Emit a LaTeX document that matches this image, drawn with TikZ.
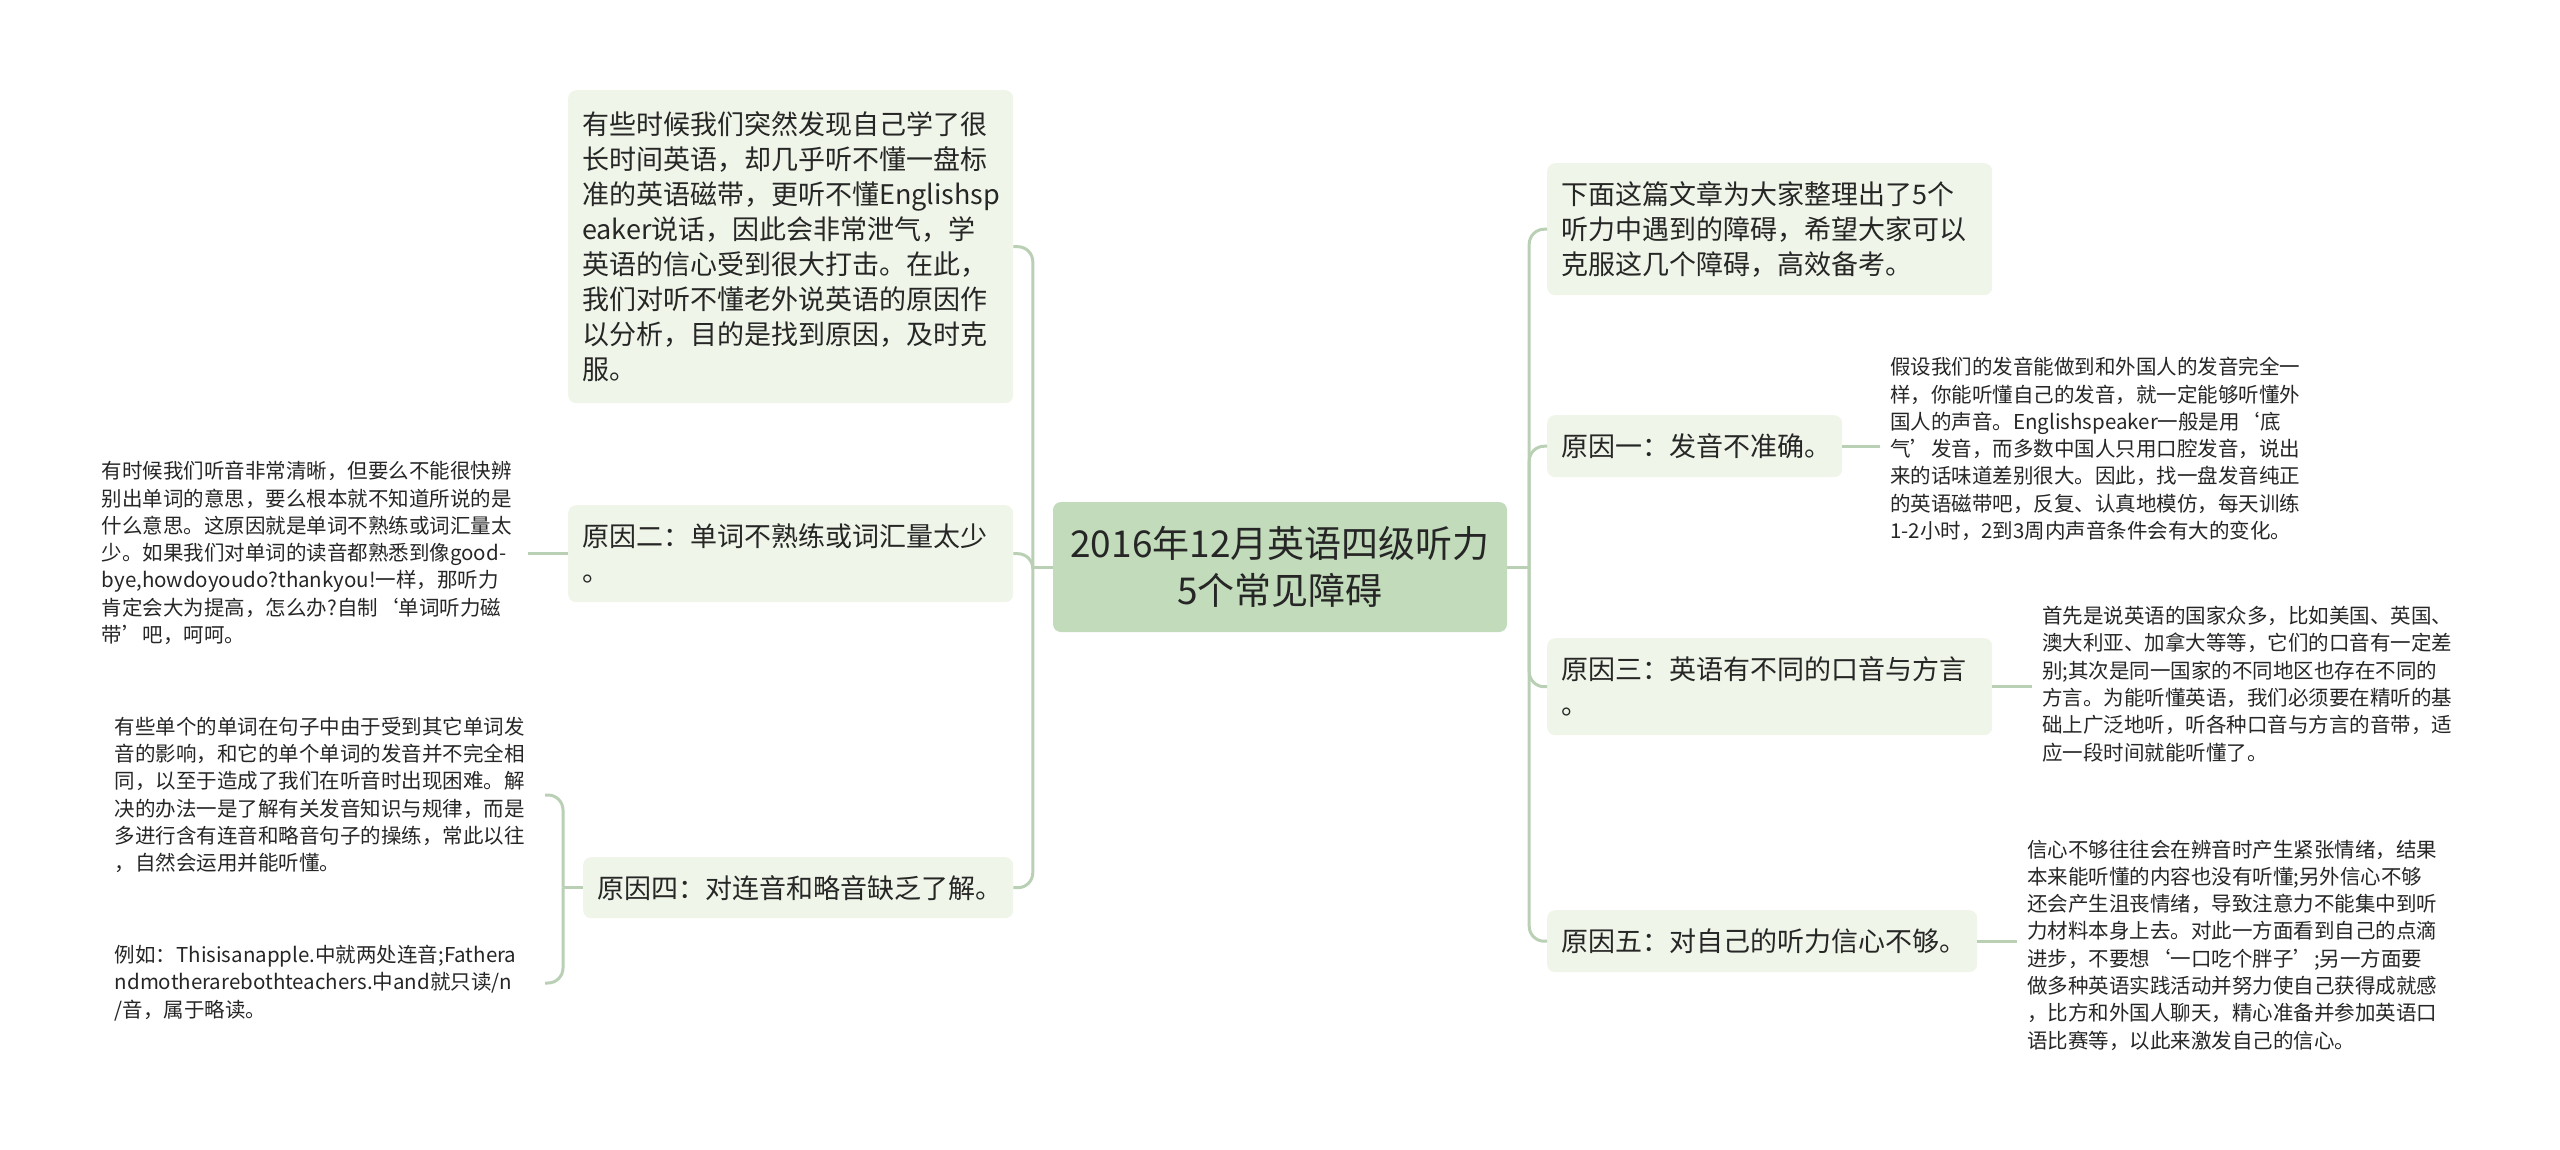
\documentclass[tikz,border=0pt]{standalone}
\usepackage{fontspec}
\setmainfont{Noto Sans CJK SC}
\usepackage{xcolor}
\usepackage{tikz}

\definecolor{linkgreen}{RGB}{186,208,181}
\definecolor{notefill}{RGB}{239,245,232}
\definecolor{rootfill}{RGB}{194,219,187}
\definecolor{inkgray}{RGB}{38,38,38}

\begin{document}
\begin{tikzpicture}[x=1pt,y=-1pt]
        % Define styles
        \tikzset{
            root/.style={rectangle, rounded corners=8pt, fill=rootfill, text=inkgray, align=center, font=\fontsize{37}{47}\selectfont, minimum width=454pt, minimum height=130pt, inner sep=0pt},
            note/.style={rectangle, rounded corners=8pt, fill=notefill, text=inkgray, align=left, font=\fontsize{27}{35}\selectfont, inner xsep=14pt, inner ysep=0pt, anchor=north west},
            detail/.style={align=left, text=inkgray, font=\fontsize{20.5}{27.3}\selectfont, inner xsep=10pt, inner ysep=0pt},
            link/.style={draw=linkgreen, line width=3pt, rounded corners=15pt}
        }
        \useasboundingbox (0,0) rectangle (2560,1149);

        % Nodes
        \node[root] (root_node) at (1280,567) {2016年12月英语四级听力\\5个常见障碍};

        % left side
        \node[note, text width=417pt, minimum height=313pt] (intro_node_l) at (568,90) {有些时候我们突然发现自己学了很\\长时间英语，却几乎听不懂一盘标\\准的英语磁带，更听不懂Englishsp\\eaker说话，因此会非常泄气，学\\英语的信心受到很大打击。在此，\\我们对听不懂老外说英语的原因作\\以分析，目的是找到原因，及时克\\服。};
        \node[note, text width=417pt, minimum height=97pt] (reason_node_2) at (568,505) {原因二：单词不熟练或词汇量太少\\。};
        \node[note, text width=402pt, minimum height=61pt] (reason_node_4) at (583,857) {原因四：对连音和略音缺乏了解。};
        \node[detail, anchor=east, text width=416pt] (detail_node_2) at (528,553) {有时候我们听音非常清晰，但要么不能很快辨\\别出单词的意思，要么根本就不知道所说的是\\什么意思。这原因就是单词不熟练或词汇量太\\少。如果我们对单词的读音都熟悉到像good-\\bye,howdoyoudo?thankyou!一样，那听力\\肯定会大为提高，怎么办?自制‘单词听力磁\\带’吧，呵呵。};
        \node[detail, anchor=east, text width=420pt] (detail_node_4a) at (545,795) {有些单个的单词在句子中由于受到其它单词发\\音的影响，和它的单个单词的发音并不完全相\\同，以至于造成了我们在听音时出现困难。解\\决的办法一是了解有关发音知识与规律，而是\\多进行含有连音和略音句子的操练，常此以往\\，自然会运用并能听懂。};
        \node[detail, anchor=east, text width=420pt] (detail_node_4b) at (545,983) {例如：Thisisanapple.中就两处连音;Fathera\\ndmotherarebothteachers.中and就只读/n\\/音，属于略读。};

        % right side
        \node[note, text width=417pt, minimum height=132pt] (intro_node_r) at (1547,163) {下面这篇文章为大家整理出了5个\\听力中遇到的障碍，希望大家可以\\克服这几个障碍，高效备考。};
        \node[note, text width=267pt, minimum height=62pt] (reason_node_1) at (1547,415) {原因一：发音不准确。};
        \node[note, text width=417pt, minimum height=97pt] (reason_node_3) at (1547,638) {原因三：英语有不同的口音与方言\\。};
        \node[note, text width=402pt, minimum height=62pt] (reason_node_5) at (1547,910) {原因五：对自己的听力信心不够。};
        \node[detail, anchor=west, text width=412pt] (detail_node_1) at (1880,449) {假设我们的发音能做到和外国人的发音完全一\\样，你能听懂自己的发音，就一定能够听懂外\\国人的声音。Englishspeaker一般是用‘底\\气’发音，而多数中国人只用口腔发音，说出\\来的话味道差别很大。因此，找一盘发音纯正\\的英语磁带吧，反复、认真地模仿，每天训练\\1-2小时，2到3周内声音条件会有大的变化。};
        \node[detail, anchor=west, text width=412pt] (detail_node_3) at (2032,684) {首先是说英语的国家众多，比如美国、英国、\\澳大利亚、加拿大等等，它们的口音有一定差\\别;其次是同一国家的不同地区也存在不同的\\方言。为能听懂英语，我们必须要在精听的基\\础上广泛地听，听各种口音与方言的音带，适\\应一段时间就能听懂了。};
        \node[detail, anchor=west, text width=420pt] (detail_node_5) at (2017,945) {信心不够往往会在辨音时产生紧张情绪，结果\\本来能听懂的内容也没有听懂;另外信心不够\\还会产生沮丧情绪，导致注意力不能集中到听\\力材料本身上去。对此一方面看到自己的点滴\\进步，不要想‘一口吃个胖子’;另一方面要\\做多种英语实践活动并努力使自己获得成就感\\，比方和外国人聊天，精心准备并参加英语口\\语比赛等，以此来激发自己的信心。};

        % Hubs
        \coordinate (left_hub) at ([xshift=-20pt]root_node.west);
        \coordinate (right_hub) at ([xshift=22pt]root_node.east);
        \coordinate (brace_hub) at ([xshift=-20pt]reason_node_4.west);

        % Links
        \draw[link] (root_node.west) -- (left_hub);
        \draw[link] (left_hub) |- (intro_node_l.east);
        \draw[link] (left_hub) |- (reason_node_2.east);
        \draw[link] (left_hub) |- (reason_node_4.east);
        \draw[link] (root_node.east) -- (right_hub);
        \draw[link] (right_hub) |- (intro_node_r.west);
        \draw[link] (right_hub) |- (reason_node_1.west);
        \draw[link] (right_hub) |- (reason_node_3.west);
        \draw[link] (right_hub) |- (reason_node_5.west);
        \draw[link] (reason_node_2.west) -- (reason_node_2.west -| detail_node_2.east);
        \draw[link] (reason_node_4.west) -- (brace_hub);
        \draw[link] (brace_hub) |- (detail_node_4a.east);
        \draw[link] (brace_hub) |- (detail_node_4b.east);
        \draw[link] (reason_node_1.east) -- (reason_node_1.east -| detail_node_1.west);
        \draw[link] (reason_node_3.east) -- (reason_node_3.east -| detail_node_3.west);
        \draw[link] (reason_node_5.east) -- (reason_node_5.east -| detail_node_5.west);
    \end{tikzpicture}
\end{document}
